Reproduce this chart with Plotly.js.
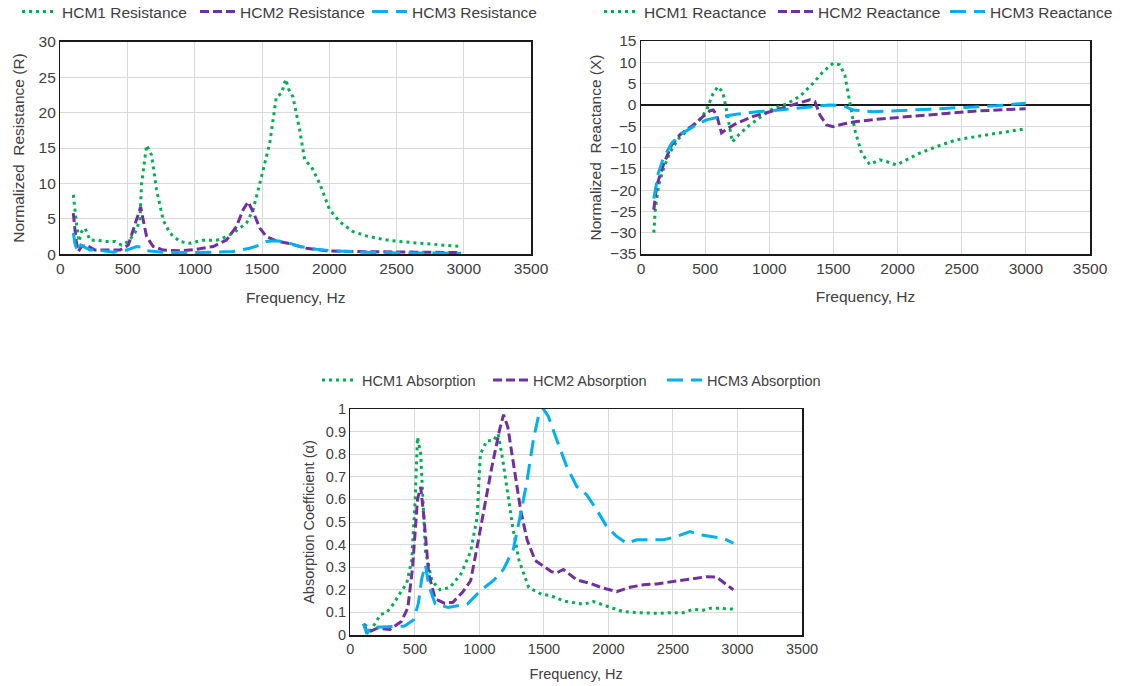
<!DOCTYPE html>
<html>
<head>
<meta charset="utf-8">
<script src="https://cdn.plot.ly/plotly-3.0.1.min.js"></script>
<style>html,body{margin:0;padding:0;background:#fff;}#chart{width:1134px;height:686px;}</style>
</head>
<body>
<div id="chart"></div>
<script>
// ---------- Data ----------
const xTicks = [0, 500, 1000, 1500, 2000, 2500, 3000, 3500];

// Resistance
const resFreqHCM1 = [96,108,121,133,138,158,183,220,270,344,406,455,505,554,591,604,641,678,715,765,814,889,963,1062,1161,1210,1285,1384,1433,1483,1530,1557,1606,1644,1676,1700,1730,1780,1817,1866,1928,2002,2077,2176,2275,2399,2522,2646,2770,2894,2975];
const resHCM1 = [8.4,6.2,4.1,2.7,1.8,3.2,3.7,2.0,2.0,1.8,1.8,1.3,1.8,3.0,4.8,10,15.4,14,9.1,4.8,3.0,1.8,1.55,2.0,2.0,2.3,3.0,4.4,6.3,10,13.5,15.7,22.2,22.7,24.7,23.2,22.2,17.5,13.3,12.4,10,6.3,4.6,3.2,2.6,2.1,1.8,1.6,1.4,1.2,1.1];
const resFreqHCM2 = [96,116,133,158,195,257,369,443,505,542,572,597,616,641,690,765,889,1012,1136,1235,1309,1359,1396,1433,1483,1532,1606,1705,1829,1978,2151,2399,2646,2975];
const resHCM2 = [5.8,2.0,0.4,1.1,1.3,0.6,0.6,0.6,1.3,3.4,5.3,6.7,4.8,2.5,1.1,0.6,0.5,0.7,1.1,2.0,3.9,6.3,7.4,6.0,3.7,2.5,1.9,1.5,0.85,0.5,0.4,0.33,0.3,0.25];
const resFreqHCM3 = [96,108,126,151,220,270,394,493,567,600,641,790,1037,1285,1408,1483,1532,1606,1681,1780,1903,2027,2275,2522,2980];
const resHCM3 = [3.0,1.55,0.4,1.3,0.6,0.6,0.3,0.6,1.1,1.0,0.5,0.25,0.25,0.4,0.85,1.3,1.8,1.9,1.7,1.1,0.7,0.5,0.3,0.2,0.15];

// Reactance
const reaFreqHCM1 = [100,112,137,175,225,287,362,450,512,562,600,637,662,687,712,762,837,937,1031,1134,1238,1342,1420,1498,1550,1589,1628,1667,1719,1783,1861,1913,1991,2069,2173,2303,2458,2640,2822,2998];
const reaHCM1 = [-30,-24.4,-18.9,-15,-11.2,-8.1,-6,-3.8,-1.2,2.7,4.3,3,-0.5,-5,-8.7,-7,-5,-2.7,-0.8,0.2,2,5.1,7.8,9.8,9.4,7,1,-5.9,-11.3,-14,-12.9,-13.3,-14.1,-12.9,-11.3,-9.8,-8.2,-7.3,-6.5,-5.6];
const reaFreqHCM2 = [100,122,175,239,304,408,485,537,563,589,628,667,745,875,1005,1134,1238,1316,1355,1394,1446,1498,1576,1680,1861,2121,2381,2640,2998];
const reaHCM2 = [-24.6,-19,-14,-9.4,-7,-4.7,-2.7,-1.4,-1.2,-2.3,-6.6,-5.7,-4.3,-2.7,-1.6,-0.4,0.6,1.2,0.8,-2.3,-4.7,-5.1,-4.5,-3.9,-3.3,-2.6,-2,-1.4,-0.9];
const reaFreqHCM3 = [100,135,174,239,304,408,511,615,745,901,1083,1290,1472,1576,1654,1809,1991,2251,2511,2770,2998];
const reaHCM3 = [-22,-16,-12.5,-9,-7,-5.1,-3.5,-2.8,-2.2,-1.6,-1.2,-0.6,0,-0.2,-1.2,-1.6,-1.4,-1,-0.6,-0.2,0.4];

// Absorption
const absFreqHCM1 = [110,127,152,191,232,282,333,385,437,475,502,520,545,562,582,632,695,770,857,932,982,1007,1057,1107,1145,1182,1220,1257,1307,1382,1482,1547,1657,1770,1805,1883,1986,2115,2245,2374,2503,2580,2658,2735,2787,2865,2981];
const absHCM1 = [0.048,0.035,0.02,0.05,0.09,0.10,0.137,0.185,0.23,0.33,0.6,0.875,0.80,0.6,0.37,0.24,0.2,0.21,0.27,0.37,0.52,0.8,0.86,0.86,0.89,0.77,0.626,0.48,0.33,0.21,0.18,0.175,0.15,0.137,0.136,0.148,0.128,0.103,0.099,0.096,0.099,0.099,0.114,0.11,0.118,0.118,0.114];
const absFreqHCM2 = [102,132,207,307,395,445,482,520,545,570,607,657,732,795,870,932,982,1032,1095,1157,1187,1220,1270,1320,1370,1432,1507,1560,1600,1650,1754,1857,1961,2064,2167,2270,2374,2503,2632,2761,2839,2916,2968];
const absHCM2 = [0.05,0.01,0.03,0.025,0.06,0.12,0.3,0.6,0.655,0.52,0.27,0.16,0.14,0.145,0.19,0.24,0.39,0.55,0.74,0.91,0.975,0.92,0.74,0.55,0.42,0.33,0.3,0.28,0.275,0.29,0.244,0.229,0.207,0.192,0.211,0.222,0.226,0.236,0.247,0.258,0.256,0.222,0.2];
const absFreqHCM3 = [102,127,157,232,332,420,488,527,553,582,607,657,757,907,1007,1107,1186,1263,1315,1366,1418,1457,1496,1534,1599,1676,1754,1831,1909,1986,2064,2141,2219,2322,2425,2529,2632,2710,2813,2890,2968];
const absHCM3 = [0.05,0.005,0.033,0.035,0.04,0.04,0.066,0.14,0.25,0.31,0.22,0.137,0.122,0.137,0.196,0.24,0.29,0.38,0.524,0.672,0.864,0.967,1.0,0.967,0.864,0.746,0.657,0.62,0.554,0.48,0.436,0.406,0.421,0.421,0.421,0.436,0.458,0.443,0.436,0.428,0.406];

// ---------- Styles ----------
const FONT = 'Liberation Sans, Arial, sans-serif';
const TXT = '#404040';
const s1 = {color: '#00b050', width: 3, dash: '3px,4px'};
const s2 = {color: '#7030a0', width: 3, dash: '9px,4px'};
const s3 = {color: '#00b0f0', width: 3, dash: '16px,8px'};

function tr(x, y, name, line, xa, ya, leg) {
  return {x: x, y: y, name: name, mode: 'lines', line: line, xaxis: xa, yaxis: ya, legend: leg, hoverinfo: 'skip'};
}

const data = [
  tr(resFreqHCM1, resHCM1, 'HCM1 Resistance', s1, 'x', 'y', 'legend'),
  tr(resFreqHCM2, resHCM2, 'HCM2 Resistance', s2, 'x', 'y', 'legend2'),
  tr(resFreqHCM3, resHCM3, 'HCM3 Resistance', s3, 'x', 'y', 'legend3'),
  tr(reaFreqHCM1, reaHCM1, 'HCM1 Reactance', s1, 'x2', 'y2', 'legend4'),
  tr(reaFreqHCM2, reaHCM2, 'HCM2 Reactance', s2, 'x2', 'y2', 'legend5'),
  tr(reaFreqHCM3, reaHCM3, 'HCM3 Reactance', s3, 'x2', 'y2', 'legend6'),
  tr(absFreqHCM1, absHCM1, 'HCM1 Absorption', s1, 'x3', 'y3', 'legend7'),
  tr(absFreqHCM2, absHCM2, 'HCM2 Absorption', s2, 'x3', 'y3', 'legend8'),
  tr(absFreqHCM3, absHCM3, 'HCM3 Absorption', s3, 'x3', 'y3', 'legend9')
];

const W = 1134, H = 686;
function dx(a, b) { return [a / W, b / W]; }
function dy(top, bottom) { return [1 - bottom / H, 1 - top / H]; }

function xaxis(dom, anchor, fs, so) {
  return {
    domain: dom, anchor: anchor, range: [0, 3500], tickvals: xTicks,
    showgrid: true, gridcolor: '#d9d9d9', gridwidth: 1,
    showline: true, mirror: true, linecolor: '#1a1a1a', linewidth: 1.5,
    zeroline: false, ticks: '', tickfont: {size: fs, color: TXT, family: FONT},
    title: {text: 'Frequency, Hz', font: {size: fs, color: TXT, family: FONT}, standoff: so},
    automargin: false, fixedrange: true
  };
}
function yaxis(dom, anchor, range, dtick, title, zl, fs, so) {
  return {
    domain: dom, anchor: anchor, range: range, dtick: dtick,
    showgrid: true, gridcolor: '#d9d9d9', gridwidth: 1,
    showline: true, mirror: true, linecolor: '#1a1a1a', linewidth: 1.5,
    zeroline: !!zl, zerolinecolor: '#1a1a1a', zerolinewidth: 1.5,
    ticks: '', tickfont: {size: fs, color: TXT, family: FONT},
    title: {text: title, font: {size: fs, color: TXT, family: FONT}, standoff: so},
    automargin: false, fixedrange: true
  };
}

function legend(px, py, fs) {
  return {
    orientation: 'h', x: px / W, y: 1 - py / H, xanchor: 'left', yanchor: 'middle',
    font: {size: fs, color: TXT, family: FONT}, bgcolor: 'rgba(0,0,0,0)',
    itemwidth: 35, tracegroupgap: 0
  };
}

const FT = 15.5, FB = 14.5;
const layout = {
  width: W, height: H,
  margin: {l: 0, r: 0, t: 0, b: 0, autoexpand: false},
  paper_bgcolor: '#fff', plot_bgcolor: '#fff',
  font: {family: FONT, color: TXT},
  showlegend: true,
  xaxis: xaxis(dx(60.4, 531), 'y', FT, 15),
  yaxis: yaxis(dy(41.7, 254.3), 'x', [0, 30], 5, 'Normalized  Resistance (R)', false, FT, 10),
  xaxis2: xaxis(dx(641, 1090), 'y2', FT, 15),
  yaxis2: yaxis(dy(41, 254), 'x2', [-35, 15], 5, 'Normalized  Reactance (X)', true, FT, 4),
  xaxis3: xaxis(dx(350.4, 802), 'y3', FB, 13),
  yaxis3: yaxis(dy(409, 635), 'x3', [0, 1], 0.1, 'Absorption Coefficient (α)', false, FB, 8),
  legend: legend(17, 12, FT),
  legend2: legend(195, 12, FT),
  legend3: legend(367, 12, FT),
  legend4: legend(599, 12, FT),
  legend5: legend(773, 12, FT),
  legend6: legend(945, 12, FT),
  legend7: legend(317, 380, FB),
  legend8: legend(488, 380, FB),
  legend9: legend(662, 380, FB)
};

Plotly.newPlot('chart', data, layout, {displayModeBar: false, staticPlot: true});
</script>
</body>
</html>
